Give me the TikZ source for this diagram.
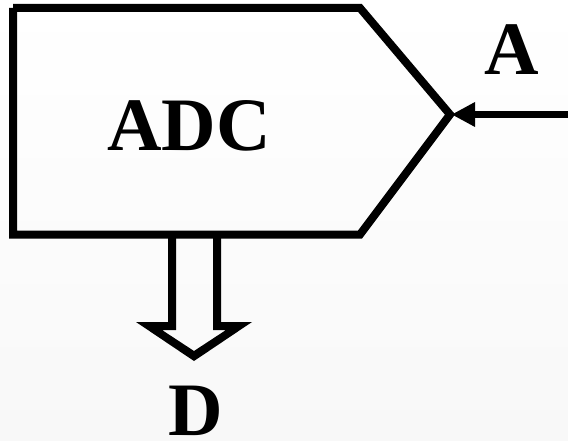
\documentclass[tikz,border=0pt]{standalone}
\usepackage{fontspec}
\setmainfont{Liberation Serif}
\definecolor{bgbottom}{HTML}{F8F8F8}
\tikzset{
  px/.style={x=1pt,y=-1pt},
  thick line/.style={draw=black,line width=8pt,miter limit=10},
  label text/.style={inner sep=0pt,font=\fontsize{75.5}{75.5}\selectfont\bfseries,text=black}
}
\begin{document}
\begin{tikzpicture}[px]
\useasboundingbox (0,0) rectangle (568,441);
\shade[top color=white,bottom color=bgbottom] (0,0) rectangle (568,441);
% body
\coordinate (tl) at (13,8);
\coordinate (tr) at (360,8);
\coordinate (tip) at (450,114.5);
\coordinate (br) at (360,234.5);
\coordinate (bl) at (13,234.5);
\draw[thick line] (tl) -- (tr) -- (tip) -- (br) -- (bl) -- (tl);
% input arrow
\coordinate (in) at (568,114.5);
\coordinate (headbase) at (475,114.5);
\draw[draw=black,line width=7.5pt] (in) -- (headbase);
\fill[black] (452,114.5) -- (475,102) -- (475,127) -- cycle;
% hollow output arrow
\fill[black] (168,236) -- (168,322) -- (136,322) -- (194,361) -- (252,322) -- (221,322) -- (221,236)
  -- (213,236) -- (213,330) -- (226,330) -- (194,351) -- (162,330) -- (176,330) -- (176,236) -- cycle;
% labels
\node[label text,anchor=base] (adc) at (189,151) {ADC};
\node[label text,anchor=base] (a) at (512,75) {A};
\node[label text,anchor=base] (d) at (195.5,435.5) {D};
\end{tikzpicture}
\end{document}
